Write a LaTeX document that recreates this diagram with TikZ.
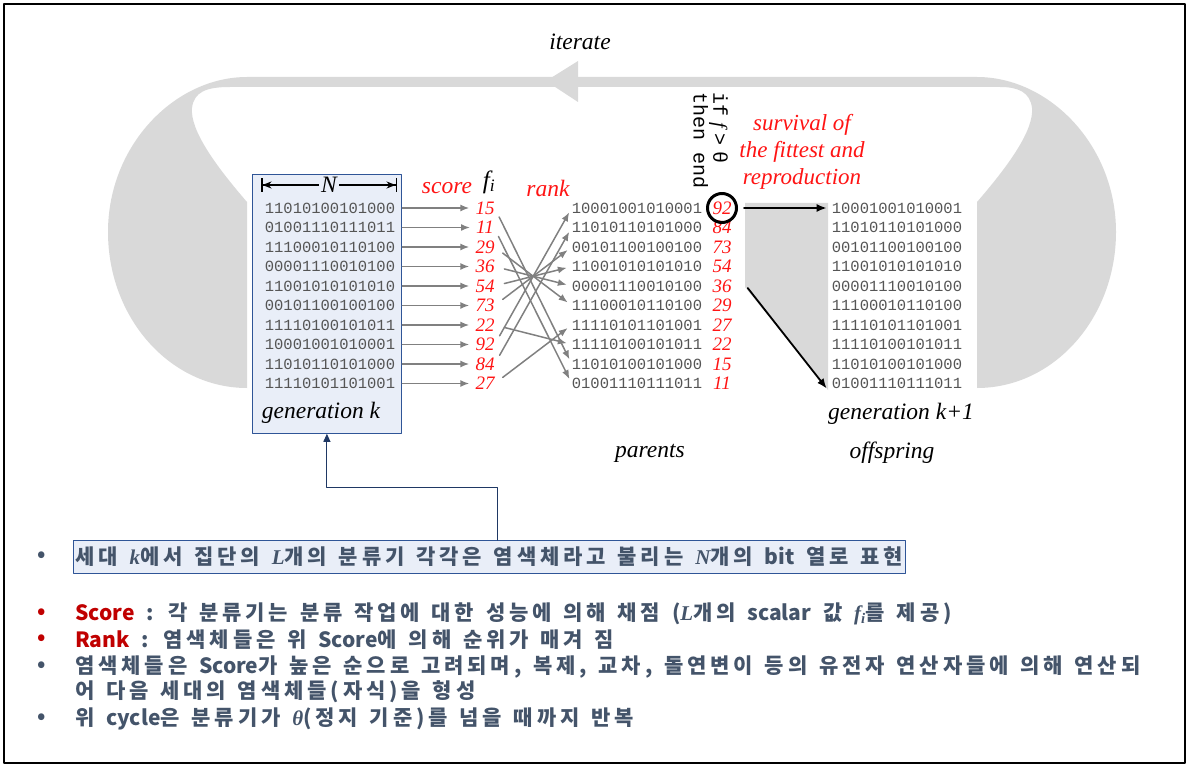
\documentclass[tikz,border=0pt]{standalone}
\usepackage{fontspec}
\setmainfont{Liberation Serif}
\newfontfamily\kr{Noto Sans CJK KR}[LetterSpace=18.5, WordSpace=1.35]
\newfontfamily\krlat{Noto Sans CJK KR}[WordSpace=1.35]
\newfontfamily\bitfnt{Liberation Mono}
\newfontfamily\mathfnt{Liberation Serif}
\newcommand\mv[1]{{\mathfnt\itshape #1}}
\newcommand\lat[1]{{\krlat #1}}
\usetikzlibrary{arrows.meta,positioning}

\definecolor{loopgray}{RGB}{217,217,217}
\definecolor{boxfill}{RGB}{233,238,248}
\definecolor{boxblue}{RGB}{47,85,151}
\definecolor{navy}{RGB}{31,56,100}
\definecolor{fitred}{RGB}{255,20,20}
\definecolor{bitgray}{RGB}{85,85,85}
\definecolor{arrowgray}{RGB}{128,128,128}
\definecolor{slate}{RGB}{68,84,106}
\definecolor{darkred}{RGB}{192,0,0}

\tikzset{
  bits/.style={font=\bitfnt\fontsize{15.5}{16}\selectfont, text=bitgray, inner sep=0pt},
  fitval/.style={font=\itshape\fontsize{19}{19}\selectfont, text=fitred, inner sep=0pt},
  caption/.style={font=\itshape\fontsize{23.5}{23.5}\selectfont, inner sep=0pt},
  redcap/.style={caption, text=fitred},
  feed/.style={draw=arrowgray, line width=1.5pt, -{Latex[length=9pt,width=7pt]}},
  pick/.style={draw=black, line width=1.8pt, -{Latex[length=10pt,width=8pt]}},
  link/.style={draw=navy, line width=1pt, -{Triangle[length=8pt,width=7pt]}},
  kline/.style={font=\kr\bfseries\fontsize{21}{26}\selectfont, text=slate, inner sep=0pt, anchor=west},
  bul/.style={kline, anchor=center},
}

\begin{document}
\begin{tikzpicture}[x=1pt,y=-1pt,line cap=round,line join=round]
\useasboundingbox (0,0) rectangle (1189,767);
\draw[line width=2pt] (4,4) rectangle (1185,763);

% iterate loop
\fill[loopgray] (247,388) .. controls (170,388) and (108,318) .. (108,232)
  .. controls (108,145) and (175,77) .. (247,77) -- (977,77)
  .. controls (1049,77) and (1116,145) .. (1116,232)
  .. controls (1116,318) and (1054,388) .. (977,388) -- (977,202)
  .. controls (1009,165) and (1034,130) .. (1032,108)
  .. controls (1030,92) and (1018,87) .. (1000,87) -- (230,87)
  .. controls (206,87) and (194,92) .. (192,108)
  .. controls (190,130) and (215,165) .. (247,202) -- cycle;
\fill[loopgray] (546,81) -- (578,61) -- (578,102) -- cycle;
\node[caption] (iter) at (580,42) {iterate};

% generation k
\node[draw=boxblue, fill=boxfill, line width=0.8pt, minimum width=149pt, minimum height=259pt, anchor=north west] (genk) at (252,174) {};
\coordinate (nL) at (261,185);
\coordinate (nR) at (397,185);
\draw[line width=1.5pt, {Bar[width=14pt]Stealth[length=9pt,width=7pt]}-{Stealth[length=9pt,width=7pt]Bar[width=14pt]}] (nL) -- (nR);
\node[caption, fill=boxfill, inner xsep=2pt] (N) at (329,185) {N};
\node[caption] (genlbl) at (321,413) {generation \textit{k}};

\node[redcap] (score) at (447,188) {score};
\node[caption, font=\itshape\fontsize{25}{25}\selectfont] (fi) at (489,182) {f\textsubscript{i}};
\node[redcap] (rank) at (548,188) {rank};

\foreach \b/\s [count=\i] in {11010100101000/15, 01001110111011/11, 11100010110100/29,
    00001110010100/36, 11001010101010/54, 00101100100100/73, 11110100101011/22,
    10001001010001/92, 11010110101000/84, 11110101101001/27} {
  \node[bits] (g\i) at (330,{208+19.5*(\i-1)}) {\b};
  \node[fitval] (s\i) at (485,{208+19.5*(\i-1)}) {\s};
  \draw[feed, shorten <=7pt, shorten >=6pt] (g\i) -- (s\i);
}

% parents
\fill[loopgray] (745,203) -- (828,203) -- (828,390) -- (745,287) -- cycle;
\foreach \b/\s [count=\i] in {10001001010001/92, 11010110101000/84, 00101100100100/73,
    11001010101010/54, 00001110010100/36, 11100010110100/29, 11110101101001/27,
    11110100101011/22, 11010100101000/15, 01001110111011/11} {
  \node[bits] (p\i) at (637,{208+19.5*(\i-1)}) {\b};
  \node[fitval] (v\i) at (722,{208+19.5*(\i-1)}) {\s};
  \node[bits] (o\i) at (897,{208+19.5*(\i-1)}) {\b};
}
\foreach \from/\to in {1/9, 2/10, 3/6, 4/5, 5/4, 6/3, 7/8, 8/1, 9/2, 10/7}
  \draw[feed, shorten <=10pt, shorten >=5pt] (s\from.east) -- (p\to.west);
\node[caption] (par) at (650,453) {parents};

% selection
\node[draw, circle, line width=3pt, minimum size=29pt, inner sep=0pt] (ring) at (v1.center) {};
\draw[pick, shorten <=6pt, shorten >=5pt] (ring.east) -- (o1.west);
\coordinate (cutA) at ([xshift=16pt,yshift=-2pt]v5.east);
\coordinate (cutB) at ([xshift=-5pt,yshift=-5pt]o10.west);
\draw[pick] (cutA) -- (cutB);
\node[rotate=-90, anchor=north west, align=left, inner sep=0pt,
  font=\bitfnt\fontsize{20}{18}\selectfont] (stop) at (728,92)
  {if\kern6pt{\rmfamily\itshape f}\kern6pt>\kern6pt θ\\then end};
\node[redcap, align=center, font=\itshape\fontsize{23}{27}\selectfont] (surv) at (802,152)
  {survival of\\the fittest and\\reproduction};
\node[caption] (genk1) at (901,414) {generation \textit{k}+1};
\node[caption] (off) at (892,453) {offspring};

% description
\node[bul] (b1) at (42,557) {•};
\node[kline, draw=boxblue, fill=boxfill, line width=0.8pt, inner xsep=2pt, inner ysep=6.5pt] (desc) at (73,557)
  {세대 \mv{k}에서 집단의 \mv{L}개의 분류기 각각은 염색체라고 불리는 \mv{N}개의 \lat{bit} 열로 표현};
\coordinate (tap) at (497,487);
\draw[link] (desc.north -| tap) -- (tap) -| (genk.south);

\node[bul, text=darkred] (b2) at (42,614) {•};
\node[kline] (t2) at (75,614) {{\color{darkred}\lat{Score}} : 각 분류기는 분류 작업에 대한 성능에 의해 채점 (\mv{L}개의 \lat{scalar} 값 \mv{f}\textsubscript{\mv{i}}를 제공)};
\node[bul, text=darkred] (b3) at (42,640) {•};
\node[kline] (t3) at (75,640) {{\color{darkred}\lat{Rank}} : 염색체들은 위 \lat{Score}에 의해 순위가 매겨 짐};
\node[bul] (b4) at (42,667) {•};
\node[kline] (t4) at (75,667) {염색체들은 \lat{Score}가 높은 순으로 고려되며, 복제, 교차, 돌연변이 등의 유전자 연산자들에 의해 연산되};
\node[kline] (t5) at (75,692) {어 다음 세대의 염색체들(자식)을 형성};
\node[bul] (b6) at (42,719) {•};
\node[kline] (t6) at (75,719) {위 \lat{cycle}은 분류기가 \mv{θ}(정지 기준)를 넘을 때까지 반복};
\end{tikzpicture}
\end{document}
